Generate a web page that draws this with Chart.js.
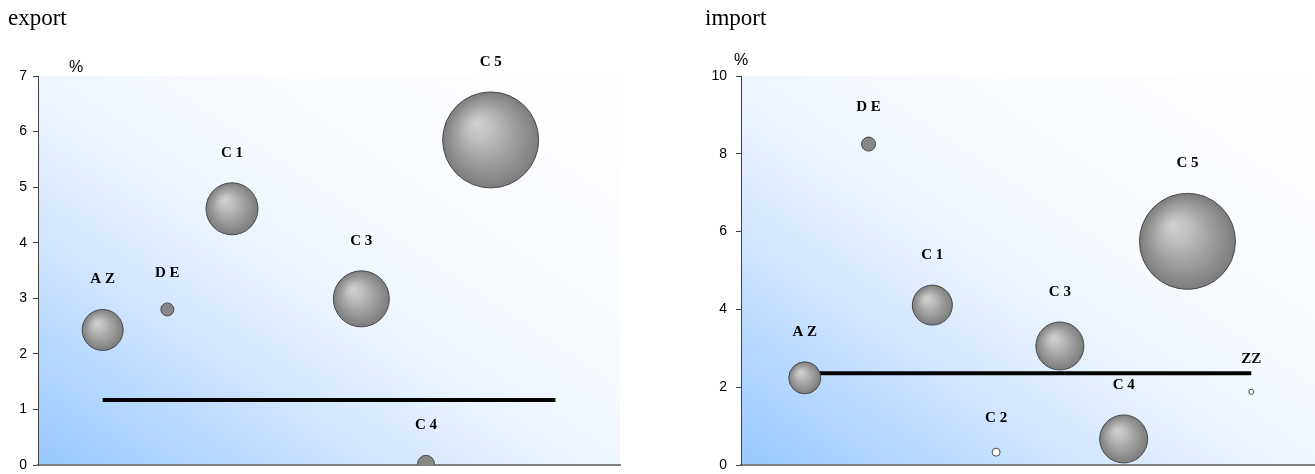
<!DOCTYPE html>
<html>
<head>
<meta charset="utf-8">
<script src="https://cdn.jsdelivr.net/npm/chart.js@4.4.1/dist/chart.umd.min.js"></script>
<style>
  html, body { margin: 0; padding: 0; background: #ffffff; }
  #wrap { position: relative; width: 1315px; height: 474px; overflow: hidden; }
  canvas { position: absolute; top: 0; }
  .title { position: absolute; top: 6px; font-family: "Liberation Serif", "Times New Roman", serif; font-size: 23px; line-height: 23px; color: #000; }
  .unit { position: absolute; font-family: "Liberation Sans", Arial, sans-serif; font-size: 16px; line-height: 16px; color: #000; transform: translate(-50%, -50%); }
</style>
</head>
<body>
<div id="wrap">
  <canvas id="cExport" width="650" height="474" style="left:0px;width:650px;height:474px"></canvas>
  <canvas id="cImport" width="665" height="474" style="left:650px;width:665px;height:474px"></canvas>
  <div class="title" style="left:8px">export</div>
  <div class="title" style="left:705px">import</div>
  <div class="unit" style="left:76px;top:67px">%</div>
  <div class="unit" style="left:741px;top:60px">%</div>
</div>
<script>
// ---- data ----
const categories = ["AZ", "DE", "C1", "C2", "C3", "C4", "C5", "ZZ"];
const pointLabels = ["A Z", "D E", "C 1", "C 2", "C 3", "C 4", "C 5", "ZZ"];

const exportValues = [2.43, 2.80, 4.61, null, 2.99, 0.02, 5.85, null];
const exportSizes  = [20.5, 6.5, 26, null, 28, 8.5, 48, null];
const exportAverage = 1.17;
const exportTicks = { min: 0, max: 7, step: 1 };

const importValues = [2.24, 8.25, 4.11, 0.33, 3.06, 0.67, 5.75, 1.88];
const importSizes  = [16, 7, 20, 4, 24, 24, 48, 2.5];
const importAverage = 2.36;
const importTicks = { min: 0, max: 10, step: 2 };

// ---- helpers ----
function bubbleData(values, sizes) {
  return categories.map((c, i) => ({ x: i + 1, y: values[i], r: sizes[i], name: pointLabels[i] }))
    .filter(p => p.y !== null);
}

function bubbleFill(ctx) {
  const raw = ctx && ctx.raw;
  if (!raw || typeof raw !== 'object' || raw.r === undefined) return '#888888';
  const r = raw.r;
  if (r <= 4) return '#ffffff';
  if (r < 10) return '#878787';
  const chart = ctx.chart;
  if (!chart || !chart.scales || !chart.scales.x || !chart.scales.y || !chart.chartArea) return '#a0a0a0';
  const x = chart.scales.x.getPixelForValue(raw.x);
  const y = chart.scales.y.getPixelForValue(raw.y);
  if (!isFinite(x) || !isFinite(y)) return '#a0a0a0';
  const g = chart.ctx.createRadialGradient(x - 0.3 * r, y - 0.35 * r, 0, x, y, r);
  g.addColorStop(0, '#d2d2d2');
  g.addColorStop(0.3, '#bcbcbc');
  g.addColorStop(0.6, '#a0a0a0');
  g.addColorStop(0.85, '#8a8a8a');
  g.addColorStop(1, '#7c7c7c');
  return g;
}

const bgPlugin = {
  id: 'bgGradient',
  beforeDraw(chart) {
    const a = chart.chartArea;
    const c = chart.ctx;
    c.save();
    c.translate(a.left, a.bottom);
    c.scale(a.right - a.left, -(a.bottom - a.top));
    const g = c.createLinearGradient(0, 0, 1, 1);
    g.addColorStop(0, '#98c8ff');
    g.addColorStop(0.15, '#b4d7ff');
    g.addColorStop(0.3, '#d2e6ff');
    g.addColorStop(0.45, '#eaf3ff');
    g.addColorStop(0.6, '#f6faff');
    g.addColorStop(1, '#ffffff');
    c.fillStyle = g;
    c.fillRect(0, 0, 1, 1);
    c.restore();
  }
};

const labelPlugin = {
  id: 'bubbleLabels',
  afterDatasetsDraw(chart) {
    const c = chart.ctx;
    c.save();
    c.font = 'bold 15px "Liberation Serif", "Times New Roman", serif';
    c.fillStyle = '#000';
    c.textAlign = 'center';
    c.textBaseline = 'middle';
    chart.data.datasets.forEach((ds, di) => {
      if (ds.type !== 'bubble') return;
      const meta = chart.getDatasetMeta(di);
      meta.data.forEach((el, i) => {
        const raw = ds.data[i];
        c.fillText(raw.name, el.x, el.y - raw.r - 30);
      });
    });
    c.restore();
  }
};

function makeChart(id, values, sizes, avg, ticks, yWidth, padRight, labelPad) {
  return new Chart(document.getElementById(id), {
    type: 'bubble',
    data: {
      datasets: [
        {
          type: 'line',
          data: [{ x: 1, y: avg }, { x: 8, y: avg }],
          borderColor: '#000000',
          borderWidth: 4,
          pointRadius: 0,
          fill: false,
          order: 2
        },
        {
          type: 'bubble',
          data: bubbleData(values, sizes),
          backgroundColor: bubbleFill,
          borderColor: '#4a4a4a',
          borderWidth: 1,
          clip: 0,
          order: 1
        }
      ]
    },
    options: {
      responsive: false,
      devicePixelRatio: 1,
      animation: false,
      events: [],
      layout: { autoPadding: false, padding: { left: 0, top: 76, right: padRight, bottom: 9 } },
      plugins: { legend: { display: false }, tooltip: { enabled: false }, title: { display: false } },
      scales: {
        x: {
          type: 'linear', min: 0, max: 9,
          ticks: { display: false },
          grid: { display: false },
          border: { display: true, color: '#808080', width: 2 },
          afterFit(s) { s.height = 0; s.paddingLeft = 0; s.paddingRight = 0; }
        },
        y: {
          type: 'linear', min: ticks.min, max: ticks.max,
          ticks: { stepSize: ticks.step, color: '#000', padding: labelPad,
                   font: { family: '"Liberation Sans", Arial, sans-serif', size: 14 } },
          grid: { display: true, drawOnChartArea: false, drawTicks: true, tickLength: 5, tickColor: '#404040', tickWidth: 1 },
          border: { display: true, color: '#404040', width: 1 },
          afterFit(s) { s.width = yWidth; s.paddingTop = 0; s.paddingBottom = 0; }
        }
      }
    },
    plugins: [bgPlugin, labelPlugin]
  });
}

makeChart('cExport', exportValues, exportSizes, exportAverage, exportTicks, 38, 30, 6);
makeChart('cImport', importValues, importSizes, importAverage, importTicks, 91, 0, 9);
</script>
</body>
</html>
